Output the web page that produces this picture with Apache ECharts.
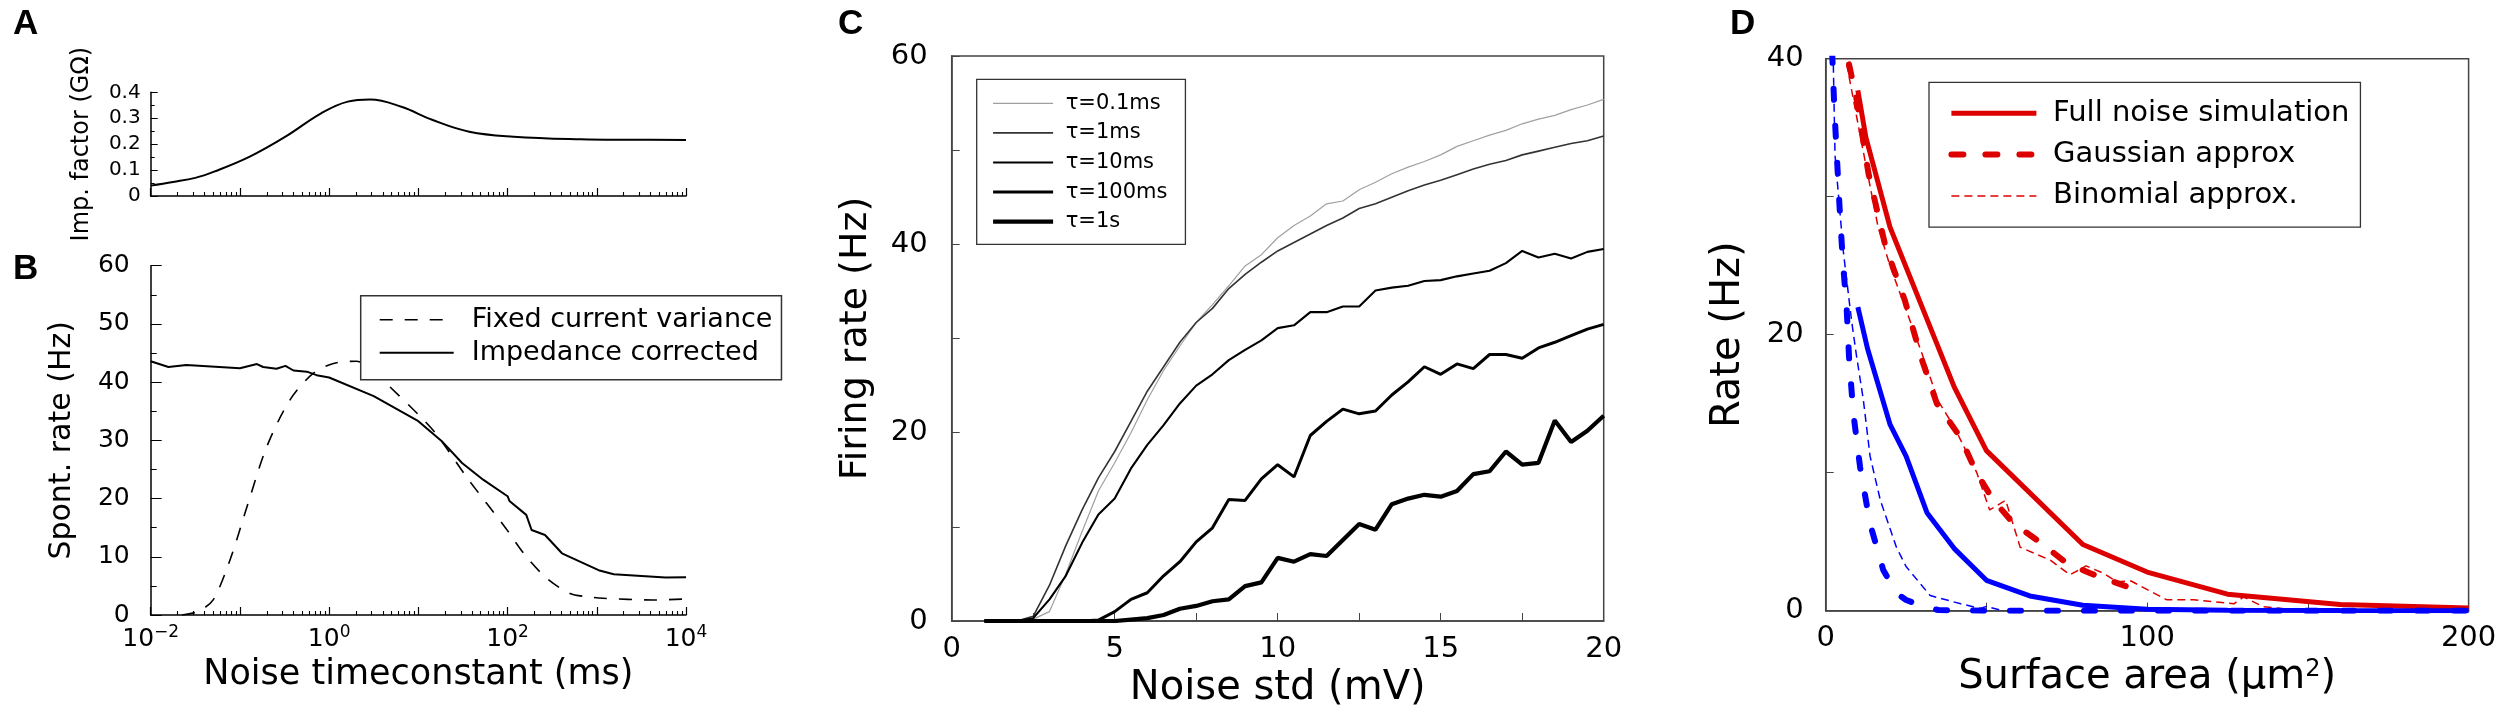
<!DOCTYPE html>
<html><head><meta charset="utf-8">
<script src="https://cdn.jsdelivr.net/npm/echarts@6/dist/echarts.min.js"></script>
<style>html,body{margin:0;padding:0;background:#fff;}#c{width:2500px;height:719px;}</style>
</head><body><div id="c"></div>
<script>
// ---------- Panel A: impedance factor vs noise time constant ----------
const aTau = [0.01, 0.0178, 0.0316, 0.0513, 0.129, 0.324, 0.813, 1.62, 2.88, 6.46, 14.5, 37.2, 117, 661, 2512, 10000];
const aImp = [0.040, 0.054, 0.070, 0.094, 0.152, 0.229, 0.319, 0.364, 0.372, 0.344, 0.293, 0.248, 0.229, 0.219, 0.217, 0.216];

// ---------- Panel B: spontaneous rate vs noise time constant ----------
const bSolidTau = [0.01, 0.0158, 0.0251, 0.1, 0.105, 0.155, 0.182, 0.257, 0.324, 0.398, 0.562, 0.724, 1, 3.16, 10, 18.2, 30.9, 53.7, 100, 105, 162, 186, 263, 407, 1047, 1549, 5888, 10000];
const bSolidRate = [43.6, 42.6, 42.95, 42.4, 42.7, 43.1, 42.6, 42.3, 42.8, 42.0, 41.8, 41.2, 40.8, 37.6, 33.3, 29.9, 26.1, 23.2, 20.4, 19.6, 17.2, 14.6, 13.75, 10.6, 7.7, 7.0, 6.45, 6.5];
const bDashTau = [0.0224, 0.0339, 0.0501, 0.0776, 0.120, 0.200, 0.363, 0.661, 1.12, 2.04, 2.82, 4.37, 10.5, 16.2, 36.3, 95.5, 155, 275, 501, 776, 1175, 4266, 10000];
const bDashRate = [0, 0.6, 2.6, 9.5, 18.6, 28.9, 36.9, 41.5, 43.2, 43.6, 42.6, 39.8, 34.1, 30.9, 23.3, 14.9, 10.4, 6.3, 3.7, 3.15, 2.87, 2.58, 2.75];
const bLogLabels = [-2, 0, 2, 4];

// ---------- Panel C: firing rate vs noise std ----------
const cNoise = [1,1.5,2,2.5,3,3.5,4,4.5,5,5.5,6,6.5,7,7.5,8,8.5,9,9.5,10,10.5,11,11.5,12,12.5,13,13.5,14,14.5,15,15.5,16,16.5,17,17.5,18,18.5,19,19.5,20];
const cTau01 = [0,0,0,0.2,1.0,5.0,9.5,13.8,16.8,20.0,23.5,26.6,29.2,31.7,33.6,35.6,37.7,38.9,40.7,42.0,43.0,44.3,44.6,45.8,46.6,47.5,48.2,48.8,49.5,50.4,51.0,51.6,52.1,52.8,53.3,53.7,54.3,54.8,55.4];
const cTau1 = [0,0,0,0.5,3.8,8.0,11.8,15.2,18.0,21.2,24.4,27.0,29.6,31.7,33.2,35.3,36.8,38.1,39.3,40.2,41.1,42.0,42.8,43.8,44.3,45.0,45.7,46.3,46.8,47.4,48.0,48.5,48.9,49.5,49.9,50.3,50.7,51.0,51.5];
const cTau10 = [0,0,0,0.3,2.3,4.8,8.3,11.3,13.0,16.2,18.7,20.8,23.1,25.0,26.2,27.7,28.8,29.8,31.1,31.4,32.8,32.8,33.4,33.4,35.1,35.4,35.6,36.1,36.2,36.6,36.9,37.2,38.0,39.3,38.6,39.0,38.5,39.2,39.5];
const cTau100 = [0,0,0,0,0,0,0,0.1,1.0,2.3,3.0,4.8,6.3,8.4,9.9,12.9,12.8,15.1,16.6,15.3,19.7,21.2,22.5,22.0,22.3,24.0,25.4,27.0,26.2,27.3,26.8,28.3,28.3,27.9,29.0,29.6,30.3,31.0,31.5];
const cTau1000 = [0,0,0,0,0,0,0,0,0,0.15,0.3,0.64,1.3,1.6,2.1,2.3,3.7,4.1,6.7,6.3,7.1,6.9,8.6,10.3,9.7,12.4,13.0,13.4,13.2,13.8,15.6,15.9,18.0,16.6,16.8,21.3,19.0,20.2,21.8];
const cNames = ['τ=0.1ms', 'τ=1ms', 'τ=10ms', 'τ=100ms', 'τ=1s'];

// ---------- Panel D: rate vs surface area ----------
const dRedFullX = [10, 12.5, 20, 40, 50, 80, 100, 125, 160, 200];
const dRedFullY = [37.7, 34.3, 27.8, 16.2, 11.6, 4.8, 2.8, 1.2, 0.45, 0.2];
const dRedGaussX = [5, 9.5, 13.3, 18.6, 24.6, 29.9, 34.6, 41.8, 47, 52.2, 58.4, 65.7, 75.1, 82.3, 93.8];
const dRedGaussY = [42, 37.2, 31.7, 26.4, 22.5, 18.2, 15.0, 12.6, 9.96, 8.0, 6.33, 5.12, 3.43, 2.71, 1.74];
const dRedBinX = [5, 11, 16.3, 20, 30, 35, 40, 47, 51, 56, 60.5, 70, 76, 81, 86.5, 90.5, 95, 106, 114.5, 127, 130, 136, 147];
const dRedBinY = [41.5, 34.1, 27.8, 25.0, 18.6, 15.2, 13.3, 10.0, 7.3, 8.0, 4.6, 3.65, 2.6, 3.25, 2.7, 2.1, 2.15, 0.8, 0.8, 0.5, 1.0, 0.3, 0.05];
const dBlueFullX = [10, 13, 20, 25, 31.5, 40, 50, 63.5, 80, 100, 125, 160, 200];
const dBlueFullY = [22, 19, 13.5, 11.2, 7.1, 4.5, 2.2, 1.07, 0.4, 0.1, 0.03, 0.01, 0];
const dBlueGaussX = [2, 2.7, 4.3, 5.3, 6.5, 7.3, 8.6, 10.7, 13.8, 17.9, 22, 25, 30, 35, 50, 100, 150, 200];
const dBlueGaussY = [40.5, 36.3, 29.3, 25.4, 22, 18.2, 14.3, 10.4, 6.3, 2.95, 1.26, 0.78, 0.34, 0.05, 0, 0, 0, 0];
const dBlueBinX = [2.3, 2.9, 5.5, 8, 9.5, 11.7, 13.8, 17, 22, 25, 32.5, 42, 48, 50, 55];
const dBlueBinY = [40.5, 33, 26, 21.1, 18.6, 15.3, 11.2, 8, 4.6, 3.2, 1.1, 0.5, 0.17, 0.3, 0];
const dNames = ['Full noise simulation', 'Gaussian approx', 'Binomial approx.'];

// ---------- helpers ----------
const FF = "'DejaVu Sans', sans-serif";
const RED = '#dd0000', BLUE = '#0000ff';
const zip = (xs, ys) => xs.map((x, i) => [x, ys[i]]);
const zipLog = (xs, ys) => xs.map((x, i) => [Math.log10(x), ys[i]]);
const minorLog = [];
for (let d = -2; d < 4; d++) for (let k = 2; k <= 9; k++) minorLog.push(d + Math.log10(k));
const expTxt = v => { const e = Math.round(v); return (e < 0 ? '−' : '') + Math.abs(e); };

function logAxis(grid, withLabels, color) {
  return [{
    type: 'value', gridIndex: grid, position: 'bottom', min: -2, max: 4, interval: 1,
    axisLine: { show: true, onZero: false, lineStyle: { color: color, width: 1.5 } },
    axisTick: { show: true, inside: true, length: 8, lineStyle: { color: color, width: 1.2 } },
    splitLine: { show: false },
    axisLabel: withLabels ? {
      show: true, margin: 9,
      formatter: v => (bLogLabels.indexOf(Math.round(v)) >= 0 ? '{b|10}{s|' + expTxt(v) + '}' : ''),
      rich: { b: { fontSize: 25, fontFamily: FF, color: '#000', lineHeight: 30 },
              s: { fontSize: 17, fontFamily: FF, color: '#000', verticalAlign: 'top', lineHeight: 18 } }
    } : { show: false }
  }, {
    type: 'value', gridIndex: grid, position: 'bottom', offset: 0, min: -2, max: 4,
    axisLine: { show: false, onZero: false },
    axisTick: { show: true, inside: true, length: 4, customValues: minorLog, lineStyle: { color: color, width: 1.1 } },
    axisLabel: { show: false }, splitLine: { show: false }
  }];
}

const nameStyle = (size) => ({ fontSize: size, fontFamily: FF, color: '#000' });
const labelStyle = (size, margin) => ({ fontSize: size, fontFamily: FF, color: '#000', margin: margin });
const legendCommon = {
  orient: 'vertical', selectedMode: false, backgroundColor: '#fff', borderColor: '#333',
  itemStyle: { opacity: 0, borderWidth: 0 },
  lineStyle: { width: 'inherit', type: 'inherit' }
};

const option = {
  animation: false,
  backgroundColor: '#fff',
  grid: [
    { left: 150.7, top: 92.3, width: 535.3, height: 103.7 },
    { left: 150.7, top: 265.7, width: 535.3, height: 349.3 },
    { left: 951.7, top: 56, width: 652, height: 565, show: true, borderColor: '#444', borderWidth: 1.5 },
    { left: 1825.7, top: 58.7, width: 642.9, height: 552, show: true, borderColor: '#444', borderWidth: 1.5 }
  ],
  xAxis: [].concat(
    logAxis(0, false, '#000'),
    logAxis(1, true, '#000').map((a, i) => i === 0 ? Object.assign(a, {
      name: 'Noise timeconstant (ms)', nameLocation: 'middle', nameGap: 42, nameTextStyle: nameStyle(35)
    }) : a),
    [{
      type: 'value', gridIndex: 2, position: 'bottom', min: 0, max: 20, interval: 5,
      axisLine: { onZero: false, lineStyle: { color: '#444', width: 1.5 } },
      axisTick: { inside: true, length: 8, lineStyle: { color: '#444' } },
      minorTick: { show: true, splitNumber: 2, length: 8, lineStyle: { color: '#444' } },
      splitLine: { show: false },
      axisLabel: labelStyle(29, 14),
      name: 'Noise std (mV)', nameLocation: 'middle', nameGap: 48, nameTextStyle: nameStyle(40)
    }, {
      type: 'value', gridIndex: 3, position: 'bottom', min: 0, max: 200, interval: 100,
      axisLine: { onZero: false, lineStyle: { color: '#444', width: 1.5 } },
      axisTick: { inside: true, length: 8, lineStyle: { color: '#444' } },
      minorTick: { show: true, splitNumber: 2, length: 8, lineStyle: { color: '#444' } },
      splitLine: { show: false },
      axisLabel: labelStyle(29, 13),
      name: 'Surface area (μm{s|2})', nameLocation: 'middle', nameGap: 44,
      nameTextStyle: Object.assign(nameStyle(40), { rich: { s: { fontSize: 24, fontFamily: FF, color: '#000', verticalAlign: 'top' } } })
    }]
  ),
  yAxis: [{
    type: 'value', gridIndex: 0, min: 0, max: 0.4, interval: 0.1,
    axisLine: { show: true, onZero: false, lineStyle: { color: '#000', width: 1.5 } },
    axisTick: { show: true, inside: true, length: 7, lineStyle: { color: '#000' } },
    minorTick: { show: true, splitNumber: 2, length: 4, lineStyle: { color: '#000' } },
    splitLine: { show: false },
    axisLabel: Object.assign(labelStyle(20, 10), { formatter: v => v === 0 ? '0' : v.toFixed(1) }),
    name: 'Imp. factor (GΩ)', nameLocation: 'middle', nameGap: 57, nameTextStyle: nameStyle(24)
  }, {
    type: 'value', gridIndex: 1, min: 0, max: 60, interval: 10,
    axisLine: { show: true, onZero: false, lineStyle: { color: '#000', width: 1.5 } },
    axisTick: { show: true, inside: true, length: 11, lineStyle: { color: '#000' } },
    minorTick: { show: true, splitNumber: 2, length: 6, lineStyle: { color: '#000' } },
    splitLine: { show: false },
    axisLabel: labelStyle(25, 21),
    name: 'Spont. rate (Hz)', nameLocation: 'middle', nameGap: 73, nameTextStyle: nameStyle(30)
  }, {
    type: 'value', gridIndex: 2, min: 0, max: 60, interval: 20,
    axisLine: { show: true, onZero: false, lineStyle: { color: '#444', width: 1.5 } },
    axisTick: { show: true, inside: true, length: 8, lineStyle: { color: '#444' } },
    minorTick: { show: true, splitNumber: 2, length: 8, lineStyle: { color: '#444' } },
    splitLine: { show: false },
    axisLabel: labelStyle(29, 24),
    name: 'Firing rate (Hz)', nameLocation: 'middle', nameGap: 77, nameTextStyle: nameStyle(38)
  }, {
    type: 'value', gridIndex: 3, min: 0, max: 40, interval: 20,
    axisLine: { show: true, onZero: false, lineStyle: { color: '#444', width: 1.5 } },
    axisTick: { show: true, inside: true, length: 8, lineStyle: { color: '#444' } },
    minorTick: { show: true, splitNumber: 2, length: 8, lineStyle: { color: '#444' } },
    splitLine: { show: false },
    axisLabel: labelStyle(29, 22),
    name: 'Rate (Hz)', nameLocation: 'middle', nameGap: 77, nameTextStyle: nameStyle(40)
  }],
  legend: [Object.assign({}, legendCommon, {
    left: 360.7, top: 295.7,
    data: ['Fixed current variance', 'Impedance corrected'],
    itemWidth: 74, itemHeight: 20, itemGap: 3, padding: [9, 9, 12, 18], borderWidth: 1.5,
    textStyle: { fontSize: 27, fontFamily: FF, color: '#000', lineHeight: 30, padding: [0, 0, 0, 13] }
  }), Object.assign({}, legendCommon, {
    left: 976.7, top: 79.3,
    data: cNames,
    itemWidth: 60, itemHeight: 14, itemGap: 5.6, padding: [12, 18, 10.6, 14.3], borderWidth: 1.3,
    textStyle: { fontSize: 21, fontFamily: FF, color: '#000', lineHeight: 24, padding: [0, 0, 0, 7.6] }
  }), Object.assign({}, legendCommon, {
    left: 1929, top: 82.3,
    data: dNames,
    itemWidth: 85, itemHeight: 20, itemGap: 7.3, padding: [14, 11, 14.3, 19.4], borderWidth: 1.3,
    textStyle: { fontSize: 29, fontFamily: FF, color: '#000', lineHeight: 34, padding: [0, 0, 0, 11.7] }
  })],
  graphic: [
    { type: 'text', left: 13, top: 7, style: { text: 'A', font: 'bold 35px "Liberation Sans", sans-serif', fill: '#000' } },
    { type: 'text', left: 13, top: 252, style: { text: 'B', font: 'bold 35px "Liberation Sans", sans-serif', fill: '#000' } },
    { type: 'text', left: 838, top: 7, style: { text: 'C', font: 'bold 35px "Liberation Sans", sans-serif', fill: '#000' } },
    { type: 'text', left: 1730, top: 7, style: { text: 'D', font: 'bold 35px "Liberation Sans", sans-serif', fill: '#000' } }
  ],
  series: [
    { type: 'line', name: 'Imp. factor', xAxisIndex: 0, yAxisIndex: 0, data: zipLog(aTau, aImp), smooth: 0.4, symbol: 'none',
      lineStyle: { color: '#000', width: 2 } },
    { type: 'line', name: 'Fixed current variance', xAxisIndex: 2, yAxisIndex: 1, data: zipLog(bDashTau, bDashRate), smooth: 0.3, symbol: 'none',
      itemStyle: { color: '#000' }, lineStyle: { color: '#000', width: 1.6, type: [13, 12] } },
    { type: 'line', name: 'Impedance corrected', xAxisIndex: 2, yAxisIndex: 1, data: zipLog(bSolidTau, bSolidRate), symbol: 'none',
      itemStyle: { color: '#000' }, lineStyle: { color: '#000', width: 2 } },

    { type: 'line', name: cNames[0], xAxisIndex: 4, yAxisIndex: 2, data: zip(cNoise, cTau01), symbol: 'none',
      itemStyle: { color: '#a0a0a0' }, lineStyle: { color: '#a0a0a0', width: 1.2 } },
    { type: 'line', name: cNames[1], xAxisIndex: 4, yAxisIndex: 2, data: zip(cNoise, cTau1), symbol: 'none',
      itemStyle: { color: '#444' }, lineStyle: { color: '#333', width: 1.6 } },
    { type: 'line', name: cNames[2], xAxisIndex: 4, yAxisIndex: 2, data: zip(cNoise, cTau10), symbol: 'none',
      itemStyle: { color: '#000' }, lineStyle: { color: '#000', width: 2.1 } },
    { type: 'line', name: cNames[3], xAxisIndex: 4, yAxisIndex: 2, data: zip(cNoise, cTau100), symbol: 'none',
      itemStyle: { color: '#000' }, lineStyle: { color: '#000', width: 3 } },
    { type: 'line', name: cNames[4], xAxisIndex: 4, yAxisIndex: 2, data: zip(cNoise, cTau1000), symbol: 'none',
      itemStyle: { color: '#000' }, lineStyle: { color: '#000', width: 4.2 } },

    { type: 'line', name: dNames[0], xAxisIndex: 5, yAxisIndex: 3, data: zip(dRedFullX, dRedFullY), symbol: 'none', clip: true,
      itemStyle: { color: RED }, lineStyle: { color: RED, width: 5 } },
    { type: 'line', name: dNames[1], xAxisIndex: 5, yAxisIndex: 3, data: zip(dRedGaussX, dRedGaussY), symbol: 'none', clip: true,
      itemStyle: { color: RED }, lineStyle: { color: RED, width: 6, type: [12, 22], cap: 'round' } },
    { type: 'line', name: dNames[2], xAxisIndex: 5, yAxisIndex: 3, data: zip(dRedBinX, dRedBinY), symbol: 'none', clip: true,
      itemStyle: { color: RED }, lineStyle: { color: RED, width: 1.5, type: [8, 5] } },
    { type: 'line', name: 'Full noise simulation (blue)', xAxisIndex: 5, yAxisIndex: 3, data: zip(dBlueFullX, dBlueFullY), symbol: 'none', clip: true,
      itemStyle: { color: BLUE }, lineStyle: { color: BLUE, width: 5 } },
    { type: 'line', name: 'Gaussian approx (blue)', xAxisIndex: 5, yAxisIndex: 3, data: zip(dBlueGaussX, dBlueGaussY), symbol: 'none', clip: true,
      itemStyle: { color: BLUE }, lineStyle: { color: BLUE, width: 6, type: [11, 26], cap: 'round' } },
    { type: 'line', name: 'Binomial approx. (blue)', xAxisIndex: 5, yAxisIndex: 3, data: zip(dBlueBinX, dBlueBinY), symbol: 'none', clip: true,
      itemStyle: { color: BLUE }, lineStyle: { color: BLUE, width: 1.5, type: [8, 5] } }
  ]
};
const chart = echarts.init(document.getElementById('c'), null, { renderer: 'canvas' });
chart.setOption(option);
</script></body></html>
